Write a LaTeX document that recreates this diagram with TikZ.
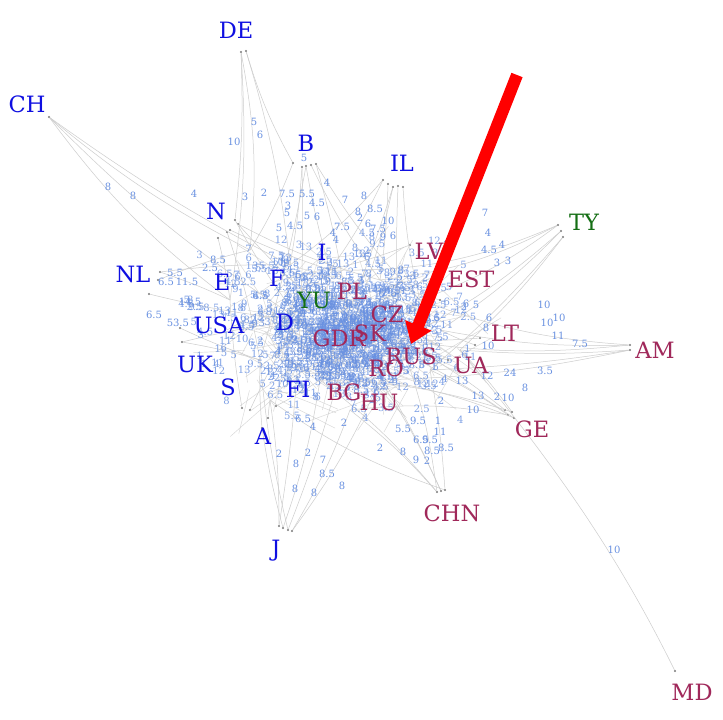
\documentclass[tikz,border=0pt]{standalone}
\usepackage{fontspec}
\setmainfont{DejaVu Serif}
\usetikzlibrary{arrows.meta}
\definecolor{lblblue}{RGB}{15,15,225}
\definecolor{lblred}{RGB}{160,40,90}
\definecolor{lblgreen}{RGB}{20,110,20}
\definecolor{numblue}{RGB}{105,145,225}
\definecolor{edgegray}{RGB}{205,205,205}
\definecolor{dotgray}{RGB}{120,120,120}
\begin{document}
\begin{tikzpicture}[x=1pt,y=-1pt,
  lbl/.style={font=\fontsize{22.5}{22.5}\selectfont, inner sep=0pt, anchor=center},
  lblB/.style={lbl,text=lblblue},
  lblR/.style={lbl,text=lblred},
  lblG/.style={lbl,text=lblgreen},
  num/.style={font=\fontsize{10}{10}\selectfont,text=numblue,inner sep=0pt},
  cnum/.style={num,text opacity=0.85},
  edge/.style={draw=edgegray,line width=0.5pt},
  cedge/.style={draw=edgegray,line width=0.45pt,draw opacity=0.8},
  dot/.style={circle,fill=dotgray,inner sep=0pt,minimum size=2.2pt},
  bigarrow/.style={draw=red,line width=12pt,-{Triangle[width=27pt,length=20pt]}}
]
\useasboundingbox (0,0) rectangle (723,720);
\fill[white] (0,0) rectangle (723,720);

% hubs inside the cloud
\foreach \n/\x/\y in {h1/250/250,h2/290/265,h3/330/270,h4/380/280,h5/420/300,h6/300/320,
  h7/350/330,h8/400/340,h9/440/330,h10/260/360,h11/320/380,h12/380/380,h13/430/370,
  h14/230/300,h15/270/400,h16/350/410,h17/460/350}
  \coordinate (\n) at (\x,\y);

% peripheral dots
\foreach \n/\x/\y in {dDE1/241/52,dDE2/246/51,dCH/49/117,
  dB1/293/163,dB2/302/167,dB3/306/166,dB4/311/165,dB5/316/164,
  dIL1/383/180,dIL2/388/184,dIL3/393/187,dIL4/398/186,dIL5/403/187,
  dN1/235/220,dN2/238/224,dN3/230/230,dN4/227/232,dN5/218/238,
  dTY1/558/225,dTY2/561/231,dTY3/563/237,
  dAM1/630/345,dAM2/630/350,
  dGE1/508/415,dGE2/512/412,dGE3/514/418,dGE4/505/410,
  dCHN1/437/492,dCHN2/441/491,dCHN3/445/490,
  dJ1/279/526,dJ2/283/528,dJ3/288/530,dJ4/292/531,
  dMD/675/671,
  dNL1/160/272,dNL2/158/280,dNL3/149/294,dNL4/180/328,
  dA1/268/418,dA2/262/428,dA3/276/406,dA4/250/410,dA5/242/408,
  dUK/182/342,dLT/480/338,dLT2/475/345,dUA/448/360,dEST/440/300,dLV/410/245}
  \node[dot] (\n) at (\x,\y) {};

% peripheral edges
\foreach \a/\b/\c in {dDE1/h1/8,dDE1/dN1/4,dDE2/dB1/-6,dDE2/h2/5,dDE1/h14/6,
  dCH/h1/-6,dCH/h14/-8,dCH/h2/-4,dCH/h6/-6,
  dB1/h1/5,dB2/h2/3,dB3/h3/-3,dB4/h4/-5,dB5/h7/4,dB2/h6/2,dB5/h5/-6,dB3/h10/3,
  dIL1/h3/5,dIL2/h4/3,dIL3/h7/4,dIL4/h8/-3,dIL5/h5/-5,dIL1/h2/6,dIL3/h11/3,
  dN1/h6/-4,dN2/h7/-5,dN3/h3/-3,dN4/h10/4,dN5/h14/3,dN2/h4/-6,
  dTY1/h5/8,dTY2/h9/6,dTY3/h17/5,dTY1/h4/10,dTY2/h8/7,dTY3/h13/4,dTY1/h3/12,
  dAM1/h9/6,dAM2/h17/4,dAM1/h5/8,dAM2/h13/3,dAM1/h8/7,dAM2/h12/5,
  dGE1/h13/-5,dGE2/h17/-4,dGE3/h12/-6,dGE4/h8/-5,dGE1/h16/-8,dGE2/h11/-8,dGE3/h7/-6,
  dCHN1/h16/-5,dCHN2/h12/-4,dCHN3/h13/-3,dCHN1/h8/-6,dCHN2/h7/-5,dCHN3/h15/8,dCHN1/h11/-6,
  dJ1/h15/-4,dJ2/h11/-5,dJ3/h10/4,dJ4/h16/-5,dJ1/h6/-3,dJ4/h12/-6,dJ2/dA2/3,dJ3/h7/-4,
  dNL1/h14/3,dNL2/h1/4,dNL3/h6/-4,dNL4/h10/-3,dNL1/h2/4,
  dA1/h15/2,dA2/h10/3,dA3/h11/-3,dA4/h6/4,dA5/h14/3,
  dUK/h6/3,dUK/h10/3,dLT/h8/3,dLT2/h9/3,dUA/h7/3,dEST/h4/3,dLV/h3/3}
  \draw[edge] (\a) to[bend left=\c] (\b);
\draw[edge] (h17) .. controls (560,470) and (620,560) .. (dMD);

% cloud edges
\pgfmathsetseed{4242}
\foreach \i in {1,...,320}{
  \pgfmathsetmacro\xa{350+60*(rand+rand)}
  \pgfmathsetmacro\ya{330+40*(rand+rand)}
  \pgfmathsetmacro\xb{\xa+65*rand}
  \pgfmathsetmacro\yb{\ya+45*rand}
  \draw[cedge] (\xa,\ya) -- (\xb,\yb);
}

% cloud numbers
\pgfmathdeclarerandomlist{nums}{{1}{2}{3}{4}{5}{6}{7}{8}{9}{10}{11}{12}{13}{2.5}{3.5}{4.5}{5.5}{6.5}{7.5}{8.5}{9.5}{1}{2}{5}{6}{8}}
\foreach \i in {1,...,520}{
  \pgfmathsetmacro\xx{325+75*(rand+rand)}
  \pgfmathsetmacro\yy{325+48*(rand+rand)}
  \pgfmathrandomitem\v{nums}
  \node[cnum] (c\i) at (\xx,\yy) {\v};
}
\foreach \i in {1,...,480}{
  \pgfmathsetmacro\xx{360+45*(rand+rand)}
  \pgfmathsetmacro\yy{334+32*(rand+rand)}
  \pgfmathrandomitem\v{nums}
  \node[cnum] (k\i) at (\xx,\yy) {\v};
}

% readable peripheral numbers
\foreach \x/\y/\t [count=\k] in {234/142/10,254/122/5,260/135/6,
  108/187/8,133/196/8,194/194/4,245/197/3,264/193/2,
  304/158/5,287/194/7.5,307/194/5.5,327/183/4,288/206/3,287/213/5,317/203/4.5,
  307/216/5,317/217/6,279/228/5,295/226/4.5,345/200/7,364/196/8,358/212/8,375/209/8.5,
  360/218/2,368/224/6,378/229/7.5,388/221/10,393/236/6,383/237/9,333/233/4,342/227/7.5,336/240/4,
  485/213/7,488/233/4,489/250/4.5,502/245/4,497/263/3,508/261/3,
  466/304/6,476/305/5,489/318/6,486/328/8,488/346/10,
  544/305/10,559/318/10,547/323/10,558/336/11,580/344/7.5,545/371/3.5,
  510/373/24,525/388/8,487/376/12,462/381/13,478/396/13,497/397/2,508/398/10,473/410/10,441/401/2,
  418/421/9.5,438/421/1,403/429/5.5,440/432/11,421/440/6.5,430/440/9.5,432/451/8.5,446/448/8.5,
  403/452/8,416/460/9,427/461/2,380/448/2,
  279/454/2,296/464/8,308/453/2,323/460/7,327/474/8.5,295/489/8,314/493/8,342/486/8,
  303/419/6.5,313/427/4,344/423/2,
  614/550/10,
  175/273/5.5,166/282/6.5,187/282/11.5,210/268/2.5,190/302/14.5,154/315/6.5,170/323/5,181/323/3.5,218/260/8.5}
  \node[num] (q\k) at (\x,\y) {\t};

% labels
\node[lblB] (DE) at (236,30) {DE};
\node[lblB] (CH) at (27,104) {CH};
\node[lblB] (B) at (306,143) {B};
\node[lblB] (IL) at (402,163) {IL};
\node[lblB] (N) at (216,211) {N};
\node[lblG] (TY) at (584,222) {TY};
\node[lblB] (I) at (322,252) {I};
\node[lblR] (LV) at (429,251) {LV};
\node[lblB] (NL) at (133,274) {NL};
\node[lblB] (E) at (222,282) {E};
\node[lblB] (F) at (277,278) {F};
\node[lblR] (EST) at (471,279) {EST};
\node[lblG] (YU) at (314,300) {YU};
\node[lblR] (PL) at (352,291) {PL};
\node[lblB] (USA) at (219,325) {USA};
\node[lblB] (D) at (285,322) {D};
\node[lblR] (CZ) at (387,314) {CZ};
\node[lblR] (GDR) at (339,338) {GDR};
\node[lblR] (SK) at (370,333) {SK};
\node[lblR] (LT) at (505,333) {LT};
\node[lblR] (AM) at (655,350) {AM};
\node[lblR] (RUS) at (411,356) {RUS};
\node[lblR] (UA) at (471,365) {UA};
\node[lblR] (RO) at (386,368) {RO};
\node[lblB] (UK) at (195,364) {UK};
\node[lblB] (S) at (228,387) {S};
\node[lblB] (FI) at (298,389) {FI};
\node[lblR] (BG) at (344,392) {BG};
\node[lblR] (HU) at (379,402) {HU};
\node[lblR] (GE) at (532,429) {GE};
\node[lblB] (A) at (263,436) {A};
\node[lblR] (CHN) at (452,513) {CHN};
\node[lblB] (J) at (276,551) {J};
\node[lblR] (MD) at (692,692) {MD};

% red arrow
\coordinate (arrTail) at (517,75);
\coordinate (arrTip) at (411,344);
\draw[bigarrow] (arrTail) -- (arrTip);
\end{tikzpicture}
\end{document}
